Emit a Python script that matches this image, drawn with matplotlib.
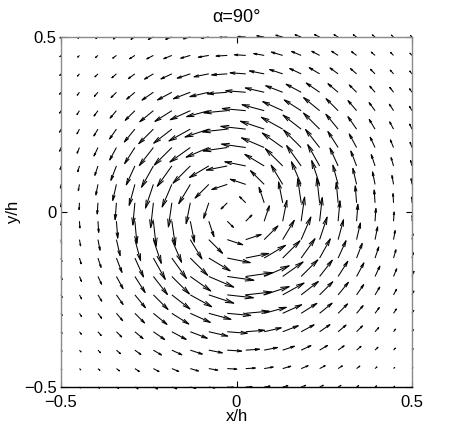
import numpy as np
import matplotlib
matplotlib.use("Agg")
import matplotlib.pyplot as plt
from matplotlib.collections import LineCollection

# ---------------- data ----------------
x_grid = [-0.5, -0.4474, -0.3947, -0.3421, -0.2895, -0.2368, -0.1842, -0.1316, -0.0789, -0.0263,
          0.0263, 0.0789, 0.1316, 0.1842, 0.2368, 0.2895, 0.3421, 0.3947, 0.4474, 0.5]
y_grid = [0.5, 0.4474, 0.3947, 0.3421, 0.2895, 0.2368, 0.1842, 0.1316, 0.0789, 0.0263,
          -0.0263, -0.0789, -0.1316, -0.1842, -0.2368, -0.2895, -0.3421, -0.3947, -0.4474, -0.5]

# velocity components (rows from top y=0.5 to bottom y=-0.5, columns from x=-0.5 to 0.5)
u_vel = [
    [-0.81, -1.20, -1.66, -2.30, -3.12, -4.07, -4.88, -5.51, -5.93, -6.29, -6.29, -5.93, -5.51, -4.88, -4.07, -3.29, -2.64, -2.12, -1.71, -1.21],
    [-0.92, -1.39, -1.99, -2.90, -4.15, -5.30, -6.48, -7.67, -8.37, -8.98, -8.98, -8.37, -9.05, -7.64, -6.26, -5.16, -3.94, -3.01, -2.33, -1.63],
    [-1.00, -1.58, -2.43, -3.62, -5.21, -7.03, -8.70, -10.44, -11.77, -12.48, -12.48, -11.77, -10.44, -9.13, -8.30, -6.47, -4.91, -3.67, -2.65, -1.78],
    [-1.08, -1.78, -2.81, -4.31, -6.52, -9.04, -11.44, -13.53, -15.10, -15.95, -15.95, -15.10, -13.53, -12.01, -10.67, -8.10, -5.84, -4.25, -3.01, -1.92],
    [-1.14, -1.98, -3.13, -5.06, -7.73, -10.84, -13.50, -15.93, -17.66, -18.72, -18.72, -17.66, -15.93, -13.50, -12.79, -9.59, -6.86, -4.74, -3.33, -2.02],
    [-1.16, -1.97, -3.29, -5.45, -8.42, -11.67, -14.44, -17.04, -18.98, -19.88, -19.88, -18.98, -17.04, -14.44, -12.83, -9.75, -6.88, -4.64, -3.09, -1.91],
    [-1.08, -1.87, -3.17, -5.36, -8.16, -11.24, -14.00, -16.28, -18.10, -19.31, -19.31, -18.10, -16.28, -14.00, -11.24, -8.16, -5.85, -3.86, -2.53, -1.54],
    [-0.72, -1.35, -2.50, -4.43, -6.88, -9.48, -11.62, -13.79, -15.43, -16.68, -16.68, -15.43, -13.79, -11.62, -9.48, -6.52, -4.58, -3.02, -1.96, -1.13],
    [-0.47, -0.89, -1.69, -2.97, -4.57, -6.32, -7.76, -9.25, -10.96, -12.34, -12.34, -10.96, -9.25, -7.76, -6.32, -4.19, -2.97, -2.00, -1.26, -0.72],
    [-0.17, -0.32, -0.60, -1.05, -1.63, -2.20, -2.75, -3.33, -4.11, -4.95, -4.95, -4.11, -3.33, -2.75, -2.20, -1.49, -1.05, -0.69, -0.44, -0.25],
    [0.17, 0.32, 0.60, 1.05, 1.63, 2.20, 2.75, 3.33, 4.11, 4.95, 4.95, 4.11, 3.33, 2.75, 2.09, 1.49, 1.05, 0.69, 0.44, 0.25],
    [0.47, 0.89, 1.69, 2.97, 4.57, 6.32, 7.76, 9.25, 10.96, 12.34, 12.34, 10.96, 9.25, 7.76, 6.00, 4.33, 3.07, 2.05, 1.29, 0.73],
    [0.72, 1.35, 2.50, 4.43, 6.88, 9.48, 11.62, 13.79, 16.97, 18.35, 18.35, 16.97, 13.79, 11.04, 8.53, 6.31, 4.53, 2.95, 1.96, 1.11],
    [0.90, 1.60, 2.92, 5.24, 8.16, 11.24, 14.00, 16.28, 19.91, 21.24, 21.24, 19.91, 16.28, 13.30, 10.11, 7.73, 5.85, 3.86, 2.53, 1.54],
    [0.96, 1.68, 3.03, 5.32, 8.42, 11.67, 14.44, 17.04, 19.93, 20.87, 20.87, 19.93, 17.04, 13.72, 10.50, 8.24, 5.70, 3.75, 2.39, 1.47],
    [0.95, 1.69, 2.90, 4.94, 7.73, 10.84, 13.50, 15.93, 17.66, 18.72, 18.72, 17.66, 15.13, 12.56, 9.97, 7.56, 5.23, 3.42, 2.26, 1.37],
    [0.90, 1.53, 2.59, 4.21, 6.52, 9.04, 11.44, 13.53, 15.10, 15.95, 15.00, 13.59, 12.45, 10.30, 8.23, 6.32, 4.70, 2.85, 1.61, 1.08],
    [0.77, 1.24, 2.06, 3.25, 4.79, 6.46, 8.00, 9.60, 10.83, 11.48, 10.98, 10.59, 9.40, 7.83, 6.32, 4.82, 3.54, 2.33, 1.46, 0.92],
    [0.65, 1.01, 1.56, 2.41, 3.53, 4.51, 5.50, 6.52, 7.12, 7.63, 7.68, 7.19, 6.43, 5.55, 4.42, 3.36, 2.62, 1.50, 0.92, 0.67],
    [0.54, 0.82, 1.22, 1.80, 2.50, 3.25, 3.90, 4.41, 4.74, 5.03, 5.00, 4.64, 4.16, 3.56, 2.89, 2.25, 1.65, 1.18, 0.75, 0.49],
]
v_vel = [
    [-0.81, -1.07, -1.31, -1.57, -1.81, -1.93, -1.80, -1.45, -0.94, -0.33, 0.33, 0.94, 1.45, 1.80, 1.93, 1.90, 1.81, 1.67, 1.53, 1.21],
    [-1.03, -1.39, -1.75, -2.22, -2.68, -2.81, -2.67, -2.26, -1.48, -0.53, 0.53, 1.48, 2.66, 3.15, 3.31, 3.33, 3.01, 2.65, 2.33, 1.82],
    [-1.27, -1.79, -2.43, -3.14, -3.82, -4.21, -4.06, -3.48, -2.35, -0.84, 0.84, 2.35, 3.48, 4.26, 4.98, 4.74, 4.25, 3.67, 3.01, 2.25],
    [-1.59, -2.33, -3.24, -4.31, -5.52, -6.26, -6.16, -5.21, -3.49, -1.23, 1.23, 3.49, 5.21, 6.47, 7.39, 6.86, 5.84, 4.91, 3.94, 2.81],
    [-1.97, -3.06, -4.27, -5.97, -7.73, -8.86, -8.59, -7.25, -4.81, -1.71, 1.71, 4.81, 7.25, 8.59, 10.46, 9.59, 8.10, 6.46, 5.16, 3.49],
    [-2.44, -3.71, -5.48, -7.87, -10.29, -11.67, -11.24, -9.48, -6.32, -2.20, 2.20, 6.32, 9.48, 11.24, 12.83, 11.92, 9.95, 7.73, 5.83, 4.03],
    [-2.93, -4.53, -6.79, -9.95, -12.83, -14.44, -14.00, -11.62, -7.76, -2.75, 2.75, 7.76, 11.62, 14.00, 14.44, 12.83, 10.87, 8.26, 6.15, 4.17],
    [-2.76, -4.60, -7.52, -11.50, -15.13, -17.04, -16.28, -13.79, -9.25, -3.33, 3.33, 9.25, 13.79, 16.28, 17.04, 14.33, 11.91, 9.08, 6.67, 4.31],
    [-2.96, -5.02, -8.48, -12.84, -16.78, -18.98, -18.10, -15.43, -10.96, -4.11, 4.11, 10.96, 15.43, 18.10, 18.98, 15.36, 12.84, 10.01, 7.12, 4.53],
    [-3.15, -5.39, -8.98, -13.56, -17.79, -19.88, -19.31, -16.68, -12.34, -4.95, 4.95, 12.34, 16.68, 19.31, 19.88, 16.29, 13.56, 10.23, 7.37, 4.64],
    [-3.15, -5.39, -8.98, -13.56, -17.79, -19.88, -19.31, -16.68, -12.34, -4.95, 4.95, 12.34, 16.68, 19.31, 18.89, 16.29, 13.56, 10.23, 7.37, 4.64],
    [-2.96, -5.02, -8.48, -12.84, -16.78, -18.98, -18.10, -15.43, -10.96, -4.11, 4.11, 10.96, 15.43, 18.10, 18.03, 15.89, 13.29, 10.24, 7.29, 4.64],
    [-2.76, -4.60, -7.52, -11.50, -15.13, -17.04, -16.28, -13.79, -10.18, -3.67, 3.67, 10.18, 13.79, 15.47, 15.34, 13.86, 11.77, 8.87, 6.67, 4.22],
    [-2.44, -3.89, -6.26, -9.72, -12.83, -14.44, -14.00, -11.62, -8.54, -3.02, 3.02, 8.54, 11.62, 13.30, 13.00, 12.15, 10.87, 8.26, 6.15, 4.17],
    [-2.03, -3.18, -5.06, -7.69, -10.29, -11.67, -11.24, -9.48, -6.64, -2.31, 2.31, 6.64, 9.48, 10.68, 10.50, 10.08, 8.23, 6.26, 4.51, 3.11],
    [-1.64, -2.62, -3.95, -5.84, -7.73, -8.86, -8.59, -7.25, -4.81, -1.71, 1.71, 4.81, 6.88, 7.99, 8.15, 7.56, 6.18, 4.66, 3.49, 2.37],
    [-1.32, -2.00, -2.99, -4.21, -5.52, -6.26, -6.16, -5.21, -3.49, -1.23, 1.16, 3.14, 4.79, 5.55, 5.70, 5.35, 4.70, 3.29, 2.10, 1.59],
    [-0.97, -1.41, -2.06, -2.82, -3.51, -3.88, -3.74, -3.20, -2.16, -0.77, 0.74, 2.12, 3.13, 3.65, 3.79, 3.53, 3.07, 2.33, 1.66, 1.17],
    [-0.73, -1.01, -1.38, -1.84, -2.28, -2.39, -2.27, -1.92, -1.26, -0.45, 0.45, 1.27, 1.89, 2.29, 2.34, 2.17, 2.00, 1.32, 0.92, 0.75],
    [-0.54, -0.73, -0.97, -1.23, -1.45, -1.54, -1.44, -1.16, -0.75, -0.27, 0.27, 0.73, 1.09, 1.31, 1.37, 1.30, 1.13, 0.93, 0.67, 0.49],
]

x_ticks = [-0.5, 0, 0.5]
x_ticklabels = ["\u22120.5", "0", "0.5"]
y_ticks = [-0.5, 0, 0.5]
y_ticklabels = ["\u22120.5", "0", "0.5"]
title_text = "\u03b1=90\u00b0"
x_label = "x/h"
y_label = "y/h"

# ---------------- style ----------------
ARROW_SCALE = 1.25 / 350.0   # data units per velocity unit
HEAD_ALPHA = 0.33
HEAD_BETA = 0.23

plt.rcParams['font.family'] = ['Liberation Sans', 'DejaVu Sans']

fig = plt.figure(figsize=(4.63, 4.30), dpi=100)
ax = fig.add_axes([61 / 463, 43 / 430, 351 / 463, 350 / 430])

X, Y = np.meshgrid(np.array(x_grid), np.array(y_grid))
U = np.array(u_vel) * ARROW_SCALE
V = np.array(v_vel) * ARROW_SCALE
XT, YT = X + U, Y + V
hx1 = XT - HEAD_ALPHA * (U + HEAD_BETA * V)
hy1 = YT - HEAD_ALPHA * (V - HEAD_BETA * U)
hx2 = XT - HEAD_ALPHA * (U - HEAD_BETA * V)
hy2 = YT - HEAD_ALPHA * (V + HEAD_BETA * U)

segs = []
for x0, y0, xt, yt, a1, b1, a2, b2 in zip(X.ravel(), Y.ravel(), XT.ravel(), YT.ravel(),
                                          hx1.ravel(), hy1.ravel(), hx2.ravel(), hy2.ravel()):
    segs.append([(x0, y0), (xt, yt)])
    segs.append([(a1, b1), (xt, yt), (a2, b2)])
lc = LineCollection(segs, colors='black', linewidths=0.75, clip_on=False)
ax.add_collection(lc)

ax.set_xlim(-0.5, 0.5)
ax.set_ylim(-0.5, 0.5)
ax.set_xticks(x_ticks)
ax.set_xticklabels(x_ticklabels)
ax.set_yticks(y_ticks)
ax.set_yticklabels(y_ticklabels)
ax.tick_params(direction='in', top=True, right=True, length=4, width=0.8,
               labelsize=12, pad=3)
ax.tick_params(axis='x', pad=6)
for side in ['left', 'top', 'right']:
    ax.spines[side].set_color('#8a8a8a')
    ax.spines[side].set_linewidth(1.0)
ax.spines['bottom'].set_color('black')
ax.spines['bottom'].set_linewidth(1.0)

ax.set_xlabel(x_label, fontsize=12, labelpad=-1)
ax.set_ylabel(y_label, fontsize=12, labelpad=2)
ax.set_title(title_text, fontsize=13, pad=11)

fig.savefig("out.png", dpi=100)
